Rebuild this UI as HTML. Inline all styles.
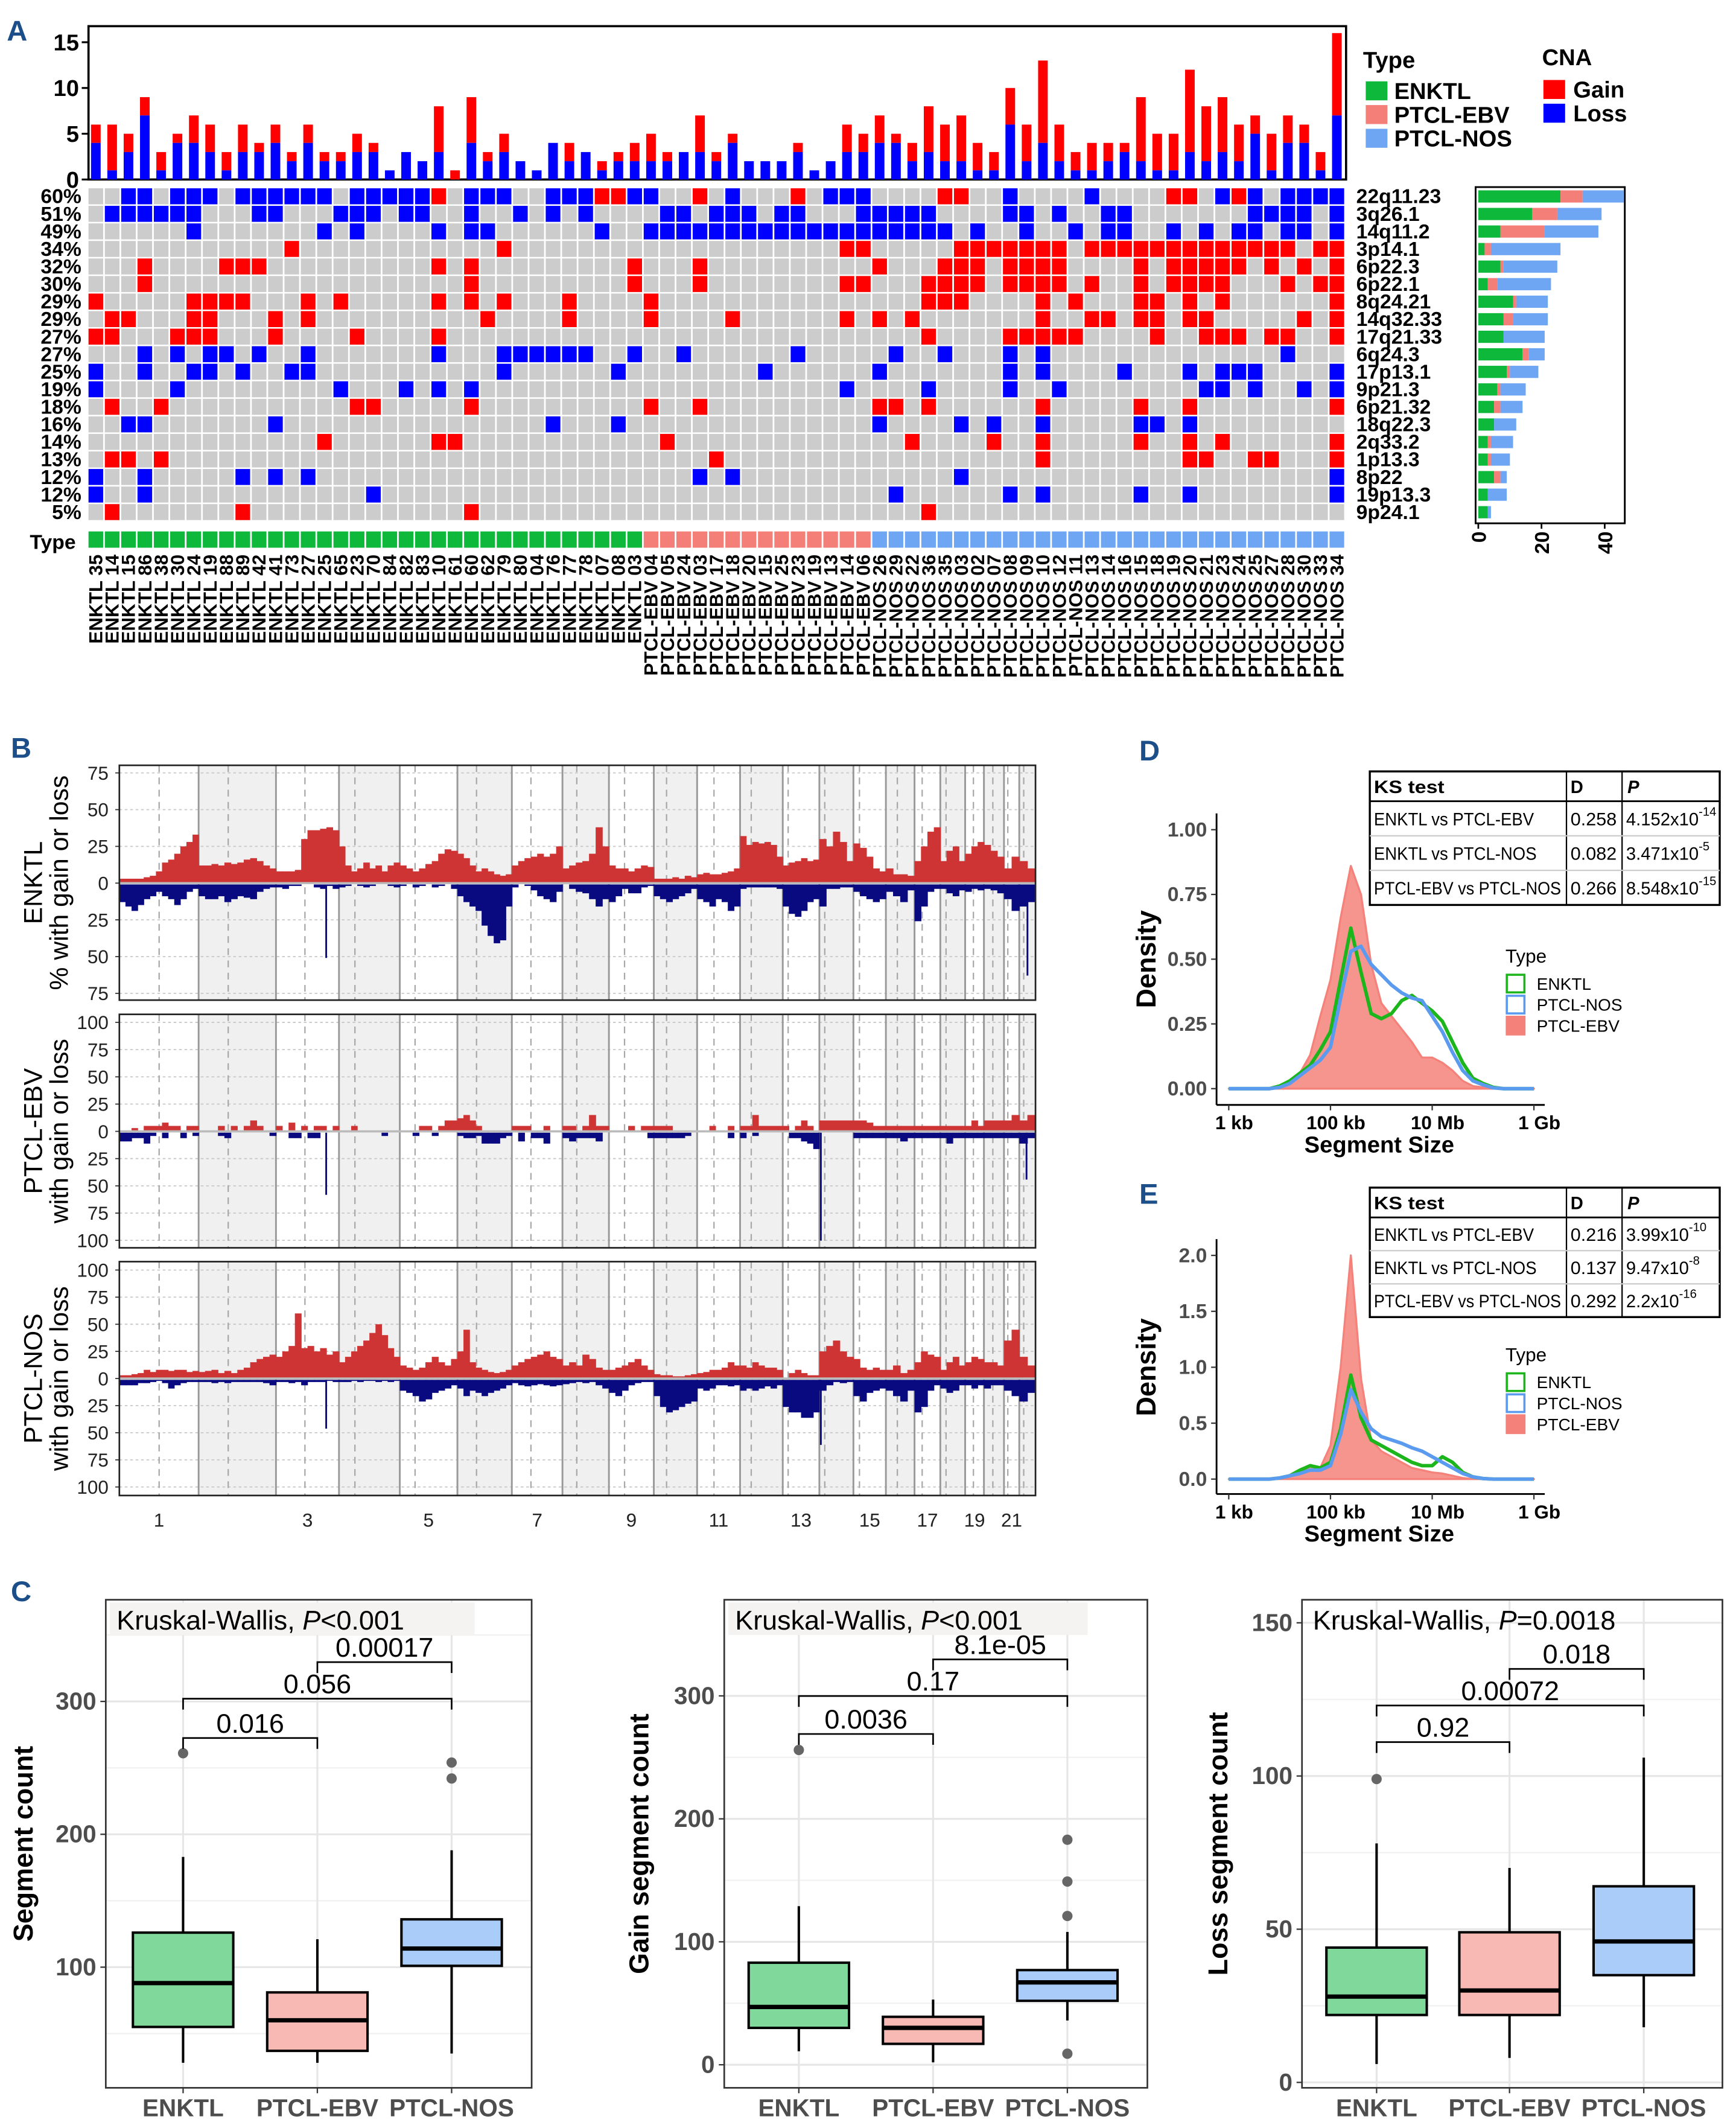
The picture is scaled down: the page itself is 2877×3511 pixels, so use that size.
<!DOCTYPE html>
<html><head><meta charset="utf-8">
<style>
html,body{margin:0;padding:0;background:#fff;}
svg{display:block;font-family:"Liberation Sans",sans-serif;}
</style></head>
<body>
<svg id="fig" xmlns="http://www.w3.org/2000/svg" width="2877" height="3511" viewBox="0 0 1280 1563" preserveAspectRatio="none">
<rect x="0" y="0" width="1280" height="1563" fill="#fff"/>
<g id="panelA"></g>
<g id="panelB"></g>
<g id="panelC"></g>
<g id="panelD"></g>
<g id="panelE"></g>
</svg>
<script>
// ---------- Panel A data ----------
const sampleIds=["35","14","15","86","38","30","24","19","88","89","42","41","73","27","25","65","23","70","84","82","83","10","61","60","62","79","80","04","76","77","78","07","08","03",
"04","05","24","03","17","18","20","15","25","23","19","13","14","06",
"26","29","22","36","35","03","02","07","08","09","10","12","11","13","14","16","15","18","19","20","21","23","24","25","27","28","30","33","34"];
const sampleTypes=[];
for(let i=0;i<34;i++)sampleTypes.push(0);
for(let i=0;i<14;i++)sampleTypes.push(1);
for(let i=0;i<29;i++)sampleTypes.push(2);
const typeNames=["ENKTL","PTCL-EBV","PTCL-NOS"];
const cnaTotal=[6,6,5,9,3,5,7,6,3,6,4,6,3,6,3,3,5,4,1,3,2,8,1,9,3,5,2,1,4,4,3,2,3,4,5,3,3,7,3,5,2,2,2,4,1,2,6,5,7,5,4,8,6,7,4,3,10,6,13,6,3,4,4,4,9,5,5,12,8,9,6,7,5,7,6,3,16];
const cnaLoss=[4,1,3,7,1,4,4,3,1,3,3,4,2,4,2,2,3,3,1,3,2,3,0,4,2,3,2,1,4,2,3,1,2,2,2,2,3,3,2,4,2,2,2,3,1,2,3,3,4,4,2,3,2,2,1,1,6,2,4,2,1,1,2,3,2,1,1,3,2,3,2,5,1,4,4,1,7];
const yTicksA=[0,5,10,15];
const pctLabels=["60%","51%","49%","34%","32%","30%","29%","29%","27%","27%","25%","19%","18%","16%","14%","13%","12%","12%","5%"];
const bandLabels=["22q11.23","3q26.1","14q11.2","3p14.1","6p22.3","6p22.1","8q24.21","14q32.33","17q21.33","6q24.3","17p13.1","9p21.3","6p21.32","18q22.3","2q33.2","1p13.3","8p22","19p13.3","9p24.1"];
const rowGain=[[21,31,32,37,43,52,53,66,67,70],[],[],
[12,25,46,47,53,54,55,56,57,58,59,61,62,63,64,65,66,67,68,69,70,71,72,73,75,76],
[3,8,9,10,21,23,33,37,48,52,53,54,56,57,58,59,64,66,67,68,69,70,72,74,76],
[3,23,33,37,46,47,51,52,53,54,56,57,58,59,61,64,66,67,68,69,73,75,76],
[0,6,7,8,9,13,15,21,23,25,29,34,51,52,53,58,60,64,65,67,69,76],
[1,2,6,7,11,13,24,29,34,39,46,48,50,58,61,62,64,65,67,68,74,76],
[0,1,5,6,7,11,16,21,51,56,57,58,59,60,65,68,69,70,72,73,76],
[],[],[],
[1,4,16,17,23,34,37,48,49,51,58,64,67,76],[],
[14,21,22,35,50,55,58,64,67,69,76],
[1,2,4,38,58,67,68,71,72,76],[],[],[1,9,23,51]];
const rowLoss=[[2,3,5,6,7,9,10,11,12,13,14,16,17,18,19,20,23,24,25,28,29,30,33,34,39,45,46,47,56,61,69,71,73,74,75,76],
[1,2,3,4,5,6,10,11,15,16,17,19,20,23,26,28,30,35,36,38,39,40,42,43,47,48,49,50,51,56,57,59,62,63,71,72,73,74,76],
[6,14,16,21,23,24,31,34,35,36,37,38,39,40,41,42,43,44,45,46,47,48,49,50,51,52,54,57,60,62,63,66,68,70,71,73,74,76],
[],[],[],[],[],[],
[3,5,7,8,10,13,21,25,26,27,28,29,30,33,36,43,49,52,56,58,73],
[0,3,6,7,9,12,13,25,32,41,48,56,58,63,67,69,70,71,76],
[0,5,15,19,21,23,46,51,56,59,68,69,71,74,76],[],
[2,3,11,28,32,48,53,55,58,64,65,67],[],[],
[0,3,9,11,13,37,39,53,76],[0,3,17,49,56,58,64,67,76],[]];
const freqTicks=[0,20,40];

// ---------- Panel B data ----------
const chrLen=[249,243,198,191,181,171,159,146,141,136,135,134,115,107,102,90,81,78,59,63,48,51];
const chrCen=[125,93,91,50,48,60,60,45,49,40,53,35,17,17,19,36,24,18,26,28,12,14];
const enktlGain=[[3,3,3,3,4,5,8,14,16,20,25,28,33],[12,12,13,12,14,13,14,16,17,15,12,10],[8,8,8,9,30,36,36,37,38,36],[25,12,8,10,14,10,12,8,12,14],[12,10,8,10,13,15,20,23,22],[20,17,12,8,10,8,6,5,6],[12,15,17,18,20,18,20,25],[10,12,14,15,20,38,25],[12,10,10,8,10,12,11],[3,3,3,4,3,5,4],[6,7,6,6,7,8,10],[32,26,28,27,28,26,18],[12,14,15,17,15,16],[30,25,35,28,15],[27,24,18,10,8],[10,6,6,5],[15,25,35,38],[15,22,25,15],[20,25,28],[26,22,18],[10,18],[15,10]];
const enktlLoss=[[12,15,18,14,10,8,5,8,10,14,10,5,3],[8,10,10,8,12,10,8,9,10,5,3,2],[2,3,1,1,0,0,2,3,1,3],[2,1,0,1,2,1,0,0,1,2],[1,0,2,1,0,2,1,0,3],[8,12,15,18,28,35,40,38,15],[2,0,1,4,8,10,12,5],[0,3,5,6,10,15,10],[12,8,3,6,6,2,1],[8,10,12,10,8,6,3],[10,12,15,10,12,18,15],[3,2,2,2,2,2,3],[15,20,22,18,12,10],[15,3,3,2,2],[5,8,10,12,10],[5,8,12,4],[25,15,5,3],[3,6,8,4],[5,3,4],[3,4,6],[10,18],[15,12]];
const enktlSpikeChr=[3,22];
const enktlSpikeMb=[155,23];
const enktlSpikeVal=[50,62];
const ebvGain=[[0,0,3,0,5,5,5,8,5,5,0,5,5],[0,0,0,5,0,5,0,5,10,5,0,0],[5,0,8,0,5,0,5,5,0,5],[0,0,5,0,0,0,0,0,0,0],[0,0,0,5,5,0,5,10,10],[12,15,10,5,0,0,0,0,0],[5,5,5,0,0,5,0,0],[5,5,0,5,15,5,5],[0,0,0,5,0,5,5],[5,5,5,0,0,0,0],[0,0,5,0,0,5,0],[5,5,15,5,5,5,5],[5,0,5,10,5,0],[10,10,10,10,10],[10,10,8,5,5],[5,5,5,5],[5,5,5,5],[5,5,5,5],[5,10,5],[10,10,10],[10,15],[10,15]];
const ebvLoss=[[8,8,5,5,10,3,0,5,0,0,5,0,3],[0,0,0,3,5,0,0,0,0,0,0,3],[0,0,5,5,0,5,5,0,0,0],[0,0,0,0,0,0,0,3,0,0],[0,0,3,0,0,3,0,0,0],[3,5,5,3,10,10,10,5,3],[0,8,0,5,5,10,0,0],[5,8,5,5,5,8,0],[0,0,0,0,0,0,5],[5,5,5,5,5,3,0],[0,0,0,0,0,5,0],[5,0,3,0,0,0,0],[0,5,5,8,10,15],[0,0,0,0,0],[5,5,5,5,5],[5,5,8,5],[5,5,5,5],[5,10,5,5],[5,5,5],[5,5,5],[5,5],[10,5]];
const ebvSpikeChr=[3,14,22];
const ebvSpikeMb=[155,2,20];
const ebvSpikeVal=[57,99,43];
const nosGain=[[3,3,4,5,8,6,8,8,7,8,8,6,7],[6,7,8,5,7,5,8,10,15,18,20,22],[20,25,30,60,28,30,25,28,22,25],[15,20,25,30,35,42,50,40,28,20],[12,10,8,10,15,20,15,12,18],[25,45,15,10,8,6,5,6,8],[12,15,18,20,22,25,20,18],[12,15,12,22,18,10,8],[8,10,12,15,18,12,8],[4,3,3,2,2,3,4],[5,6,8,8,10,15,12],[12,10,15,12,10,10,8],[0,5,8,5,3,3],[25,30,35,25,20],[18,10,8,10,8],[8,12,5,8],[15,25,22,20],[8,15,20,12],[15,20,18],[15,15,12],[35,45],[20,12]];
const nosLoss=[[5,5,5,3,3,2,1,3,8,5,3,2,2],[2,2,3,2,3,2,2,2,2,2,3,5],[2,2,3,2,5,2,2,2,1,2],[2,2,1,2,1,1,2,1,2,1],[10,12,15,20,18,12,10,8,5],[8,15,10,12,15,12,10,8,5],[3,5,6,5,4,5,6,5],[4,3,2,3,2,5,8],[12,15,10,5,3,2,2],[15,25,30,28,25,22,20],[8,10,8,5,5,6,5],[10,8,10,8,6,8,5],[25,30,30,35,35,30],[10,5,2,3,2],[15,20,12,10,8],[10,15,20,10],[30,25,10,5],[8,12,10,5],[5,8,5],[8,5,5],[10,15],[20,12]];
const nosSpikeChr=[3,14];
const nosSpikeMb=[155,2];
const nosSpikeVal=[45,60];
const ticksB1=[75,50,25,0,25,50,75];
const ticksB2=[100,75,50,25,0,25,50,75,100];

// ---------- Panel C data ----------
const boxGroups=["ENKTL","PTCL-EBV","PTCL-NOS"];
const c1Stats=[[28,55,88,126,183],[28,37,60,81,121],[35,101,114,136,188]];
const c1Out=[[261],[],[254,242]];
const c1Ticks=[100,200,300];
const c1Pvals=["0.016","0.056","0.00017"];
const c2Stats=[[11,30,47,83,129],[2,17,30,39,53],[36,52,67,77,108]];
const c2Out=[[256],[],[183,149,121,9]];
const c2Ticks=[0,100,200,300];
const c2Pvals=["0.0036","0.17","8.1e-05"];
const c3Stats=[[6,22,28,44,78],[8,22,30,49,70],[18,35,46,64,106]];
const c3Out=[[99],[],[]];
const c3Ticks=[0,50,100,150];
const c3Pvals=["0.92","0.00072","0.018"];

// ---------- Panel D/E data ----------
const logSize=[3,3.2,3.4,3.6,3.8,4.0,4.2,4.4,4.6,4.8,5.0,5.2,5.4,5.6,5.8,6.0,6.2,6.4,6.6,6.8,7.0,7.2,7.4,7.6,7.8,8.0,8.2,8.4,8.6,8.8,9.0];
const dEbv=[0,0,0,0,0,0.01,0.03,0.06,0.13,0.28,0.42,0.66,0.86,0.75,0.48,0.33,0.28,0.23,0.18,0.12,0.12,0.1,0.07,0.03,0.01,0.005,0,0,0,0,0];
const dEnktl=[0,0,0,0,0,0.01,0.03,0.06,0.09,0.15,0.22,0.42,0.62,0.45,0.29,0.27,0.29,0.34,0.36,0.33,0.3,0.26,0.18,0.1,0.04,0.02,0.005,0,0,0,0];
const dNos=[0,0,0,0,0,0.005,0.02,0.05,0.08,0.11,0.16,0.35,0.53,0.55,0.48,0.44,0.4,0.37,0.35,0.34,0.28,0.22,0.14,0.07,0.03,0.015,0.003,0,0,0,0];
const eEbv=[0,0,0,0,0,0.01,0.03,0.06,0.12,0.1,0.3,1.0,2.0,0.9,0.35,0.25,0.2,0.15,0.1,0.08,0.06,0.05,0.03,0.01,0,0,0,0,0,0,0];
const eEnktl=[0,0,0,0,0,0.01,0.03,0.08,0.12,0.1,0.15,0.45,0.93,0.55,0.35,0.3,0.25,0.2,0.15,0.12,0.12,0.2,0.15,0.06,0.02,0.005,0,0,0,0,0];
const eNos=[0,0,0,0,0,0.01,0.03,0.05,0.08,0.08,0.12,0.4,0.8,0.6,0.45,0.38,0.35,0.32,0.28,0.25,0.2,0.15,0.1,0.05,0.02,0.005,0,0,0,0,0];
const dTicks=[0,0.25,0.5,0.75,1.0];
const dTickLabels=["0.00","0.25","0.50","0.75","1.00"];
const eTicks=[0,0.5,1.0,1.5,2.0];
const eTickLabels=["0.0","0.5","1.0","1.5","2.0"];
const xLogTicks=[3,5,7,9];
const xLogLabels=["1 kb","100 kb","10 Mb","1 Gb"];
const ksComparisons=["ENKTL vs PTCL-EBV","ENKTL vs PTCL-NOS","PTCL-EBV vs PTCL-NOS"];
const ksDvalsD=["0.258","0.082","0.266"];
const ksPmantD=["4.152x10","3.471x10","8.548x10"];
const ksPexpD=["-14","-5","-15"];
const ksDvalsE=["0.216","0.137","0.292"];
const ksPmantE=["3.99x10","9.47x10","2.2x10"];
const ksPexpE=["-10","-8","-16"];

// ---------- helpers ----------
const NS="http://www.w3.org/2000/svg";
function mk(tag,attrs,parent){const e=document.createElementNS(NS,tag);for(const k in attrs)e.setAttribute(k,attrs[k]);parent.appendChild(e);return e;}
function txt(s,attrs,parent){const e=mk("text",attrs,parent);e.textContent=s;return e;}
const COL_GREEN="#0db83b",COL_PINK="#f47f79",COL_BLUE="#6ea6f4";
const typeColors=[COL_GREEN,COL_PINK,COL_BLUE];

// ================= PANEL A =================
(function(){
const g=document.getElementById("panelA");
let t=txt("A",{x:5,y:30,"font-size":21,"font-weight":"bold",fill:"#1c4f8a"},g);

const X0=65.26,P=12.04,CW=10.8,Y0=138.9,RP=12.94,RH=11.8;
const ax0=132.4,ak=6.75,atop=19.3,aright=992.5;
const fr=mk("rect",{x:X0,y:atop,width:aright-X0,height:ax0-atop,fill:"none",stroke:"#000","stroke-width":1.6},g);

yTicksA.forEach(v=>{const y=ax0-v*ak;
 const l=mk("line",{x1:X0-5,x2:X0,y1:y,y2:y,stroke:"#000","stroke-width":1.4},g);
 
 const tt=txt(String(v),{x:X0-7,y:y+6,"text-anchor":"end","font-size":17,"font-weight":"bold"},g);
 });
cnaTotal.forEach((tot,i)=>{const bx=X0+i*P+(CW-7.1)/2;const lo=cnaLoss[i];
 const r1=mk("rect",{x:bx,y:ax0-tot*ak,width:7.1,height:(tot-lo)*ak,fill:"#ff0000"},g);
 
 const r2=mk("rect",{x:bx,y:ax0-lo*ak,width:7.1,height:lo*ak,fill:"#0000ff"},g);
 });
for(let r=0;r<19;r++){
 const y=Y0+r*RP;
 for(let c=0;c<77;c++){
  let f="#cccccc";
  if(rowGain[r].indexOf(c)>=0)f="#ff0000";
  if(rowLoss[r].indexOf(c)>=0)f="#0000ff";
  const cell=mk("rect",{x:X0+c*P,y:y,width:CW,height:RH,fill:f},g);
  
 }
 const pl=txt(pctLabels[r],{x:60,y:y+11,"text-anchor":"end","font-size":15,"font-weight":"bold"},g);
 
 const bl=txt(bandLabels[r],{x:1000,y:y+11,"font-size":15,"font-weight":"bold"},g);
 
}
const tl=txt("Type",{x:22,y:405,"font-size":15,"font-weight":"bold"},g);

for(let c=0;c<77;c++){
 const tr=mk("rect",{x:X0+c*P,y:392,width:CW,height:12,fill:typeColors[sampleTypes[c]]},g);
 
 const s=typeNames[sampleTypes[c]]+" "+sampleIds[c];
 const cx=X0+c*P+CW/2+4.8;
 const st=txt(s,{x:0,y:0,transform:"translate("+cx+",409) rotate(-90)","text-anchor":"end","font-size":14,"font-weight":"bold"},g);
 
}
const fx0=1090,fk=2.33;
const ff=mk("rect",{x:1088,y:138,width:110,height:248,fill:"none",stroke:"#000","stroke-width":1.3},g);

for(let r=0;r<19;r++){
 const counts=[0,0,0];
 rowGain[r].forEach(c=>counts[sampleTypes[c]]++);
 rowLoss[r].forEach(c=>counts[sampleTypes[c]]++);
 let acc=0;const y=Y0+r*RP+1.5;
 for(let k=0;k<3;k++){
  const b=mk("rect",{x:fx0+acc*fk,y:y,width:counts[k]*fk,height:9,fill:typeColors[k]},g);
  
  acc+=counts[k];
 }
}
freqTicks.forEach(v=>{const x=fx0+v*fk;
 const l=mk("line",{x1:x,x2:x,y1:386,y2:390,stroke:"#000","stroke-width":1.2},g);
 
 const tt=txt(String(v),{x:0,y:0,transform:"translate("+(x+5.5)+",392) rotate(-90)","text-anchor":"end","font-size":15,"font-weight":"bold"},g);
 });
const lg=mk("g",{},g);
let q=txt("Type",{x:1005,y:50,"font-size":17,"font-weight":"bold"},lg);
typeNames.forEach((n,k)=>{const yy=60+k*17.5;
 const s=mk("rect",{x:1007,y:yy,width:16,height:14,fill:typeColors[k]},lg);
 const tt=txt(n,{x:1028,y:yy+13,"font-size":17,"font-weight":"bold"},lg);});
const lc=mk("g",{},g);
q=txt("CNA",{x:1137,y:48,"font-size":17,"font-weight":"bold"},lc);
[["Gain","#ff0000"],["Loss","#0000ff"]].forEach((p,k)=>{const yy=59+k*17.5;
 const s=mk("rect",{x:1138,y:yy,width:16,height:14,fill:p[1]},lc);
 const tt=txt(p[0],{x:1160,y:yy+13,"font-size":17,"font-weight":"bold"},lc);});
})();

// ================= PANEL B =================
(function(){
const g=document.getElementById("panelB");
let t=txt("B",{x:8,y:559,"font-size":21,"font-weight":"bold",fill:"#1c4f8a"},g);

const XL=88,XR=763.5;
const totalMb=chrLen.reduce((a,b)=>a+b,0);
const sc=(XR-XL)/totalMb;
const cum=[];let a=0;chrLen.forEach(l=>{cum.push(a);a+=l;});
function gx(c,mb){return XL+(cum[c]+mb)*sc;}
const panels=[
 {top:564.5,bot:737.7,zero:651.4,k:1.084,ticks:ticksB1,gain:enktlGain,loss:enktlLoss,sc:enktlSpikeChr,sm:enktlSpikeMb,sv:enktlSpikeVal,lab1:"ENKTL",lab2:"% with gain or loss",name:"enktl"},
 {top:748.2,bot:920.4,zero:834.5,k:0.804,ticks:ticksB2,gain:ebvGain,loss:ebvLoss,sc:ebvSpikeChr,sm:ebvSpikeMb,sv:ebvSpikeVal,lab1:"PTCL-EBV",lab2:"with gain or loss",name:"ptcl-ebv"},
 {top:930.6,bot:1103.1,zero:1016.8,k:0.80,ticks:ticksB2,gain:nosGain,loss:nosLoss,sc:nosSpikeChr,sm:nosSpikeMb,sv:nosSpikeVal,lab1:"PTCL-NOS",lab2:"with gain or loss",name:"ptcl-nos"}];
panels.forEach(p=>{
 const pg=mk("g",{},g);
 chrLen.forEach((l,c)=>{ if(c%2===1){const s=mk("rect",{x:gx(c,0),y:p.top,width:l*sc,height:p.bot-p.top,fill:"#f0f0f0"},pg);
  }});
 const n=p.ticks.length,mid=(n-1)/2;
 p.ticks.forEach((v,i)=>{
  const yy=i<mid?p.zero-v*p.k:p.zero+v*p.k;
  const l=mk("line",{x1:XL,x2:XR,y1:yy,y2:yy,stroke:"#c8c8c8","stroke-width":0.8,"stroke-dasharray":"2,2"},pg);
  
  const tl=mk("line",{x1:XL-3,x2:XL,y1:yy,y2:yy,stroke:"#333","stroke-width":0.8},pg);
  
  const tt=txt(String(v),{x:XL-8,y:yy+5,"text-anchor":"end","font-size":14,fill:"#222"},pg);
  });
 chrLen.forEach((l,c)=>{
  const cx=gx(c,chrCen[c]);
  const d=mk("line",{x1:cx,x2:cx,y1:p.top,y2:p.bot,stroke:"#a8a8a8","stroke-width":1,"stroke-dasharray":"5,4"},pg);
  
  if(c>0){const bx=gx(c,0);const b=mk("line",{x1:bx,x2:bx,y1:p.top,y2:p.bot,stroke:"#999","stroke-width":1.3},pg);
  }
 });
 p.gain.forEach((arr,c)=>{const w=chrLen[c]/arr.length;
  arr.forEach((v,j)=>{if(v<=0)return;const r=mk("rect",{x:gx(c,j*w),y:p.zero-v*p.k,width:w*sc+0.3,height:v*p.k,fill:"#cf3434"},pg);
   });});
 p.loss.forEach((arr,c)=>{const w=chrLen[c]/arr.length;
  arr.forEach((v,j)=>{if(v<=0)return;const r=mk("rect",{x:gx(c,j*w),y:p.zero+1,width:w*sc+0.3,height:v*p.k,fill:"#0a0a80"},pg);
   });});
 p.sc.forEach((c,i)=>{const x=gx(c-1,p.sm[i]);const r=mk("rect",{x:x,y:p.zero+1,width:1.3,height:p.sv[i]*p.k,fill:"#0a0a80"},pg);
  });
 const z=mk("line",{x1:XL,x2:XR,y1:p.zero,y2:p.zero,stroke:"#bbbbbb","stroke-width":1.6},pg);
 
 const f=mk("rect",{x:XL,y:p.top,width:XR-XL,height:p.bot-p.top,fill:"none",stroke:"#222","stroke-width":1.2},pg);
 
 const cy=(p.top+p.bot)/2;
 const a1=txt(p.lab1,{x:0,y:0,transform:"translate(31,"+cy+") rotate(-90)","text-anchor":"middle","font-size":19},pg);
 
 const a2=txt(p.lab2,{x:0,y:0,transform:"translate(50,"+cy+") rotate(-90)","text-anchor":"middle","font-size":19},pg);
 
});
chrLen.forEach((l,c)=>{ if(c%2===0){const x=gx(c,l/2);
 const tt=txt(String(c+1),{x:x,y:1126,"text-anchor":"middle","font-size":14,fill:"#222"},g);
 }});
})();

// ================= PANEL C =================
(function(){
const g=document.getElementById("panelC");
let t=txt("C",{x:8,y:1181,"font-size":21,"font-weight":"bold",fill:"#1c4f8a"},g);

const fills=["#80d89a","#f8b8b4","#aaccf8"];
const cfg=[
 {x0:78,x1:392,cx:[135,234,333],y0:1549,k:0.98,stats:c1Stats,out:c1Out,ticks:c1Ticks,minor:[50,150,250,350],pv:c1Pvals,by:[1282,1253,1226],title:"Segment count",kw:"<0.001",kwbg:350,ylx:24,name:"segment-count"},
 {x0:534,x1:846,cx:[589,688,787],y0:1523,k:0.907,stats:c2Stats,out:c2Out,ticks:c2Ticks,minor:[50,150,250],pv:c2Pvals,by:[1279,1251,1224],title:"Gain segment count",kw:"<0.001",kwbg:802,ylx:478,name:"gain-segment-count"},
 {x0:960,x1:1270,cx:[1015,1113,1212],y0:1536,k:2.26,stats:c3Stats,out:c3Out,ticks:c3Ticks,minor:[25,75,125],pv:c3Pvals,by:[1285,1258,1231],title:"Loss segment count",kw:"=0.0018",kwbg:0,ylx:905,name:"loss-segment-count"}];
cfg.forEach(c=>{
 const pg=mk("g",{},g);
 const Y=v=>c.y0-v*c.k;
 const top=1180,bot=1540;
 c.minor.forEach(v=>{const y=Y(v);if(y<top||y>bot)return;const l=mk("line",{x1:c.x0,x2:c.x1,y1:y,y2:y,stroke:"#f0f0f0","stroke-width":1},pg);
  });
 c.ticks.forEach(v=>{const y=Y(v);const l=mk("line",{x1:c.x0,x2:c.x1,y1:y,y2:y,stroke:"#e6e6e6","stroke-width":1.4},pg);
  
  const tk=mk("line",{x1:c.x0-4,x2:c.x0,y1:y,y2:y,stroke:"#333","stroke-width":1},pg);
  
  const tt=txt(String(v),{x:c.x0-7,y:y+6,"text-anchor":"end","font-size":18,"font-weight":"bold",fill:"#4d4d4d"},pg);
  });
 c.cx.forEach(x=>{const l=mk("line",{x1:x,x2:x,y1:top,y2:bot,stroke:"#e6e6e6","stroke-width":1.4},pg);
  });
 const bgw=c.kwbg?c.kwbg-(c.x0+3):0;
 if(bgw>0){const bg=mk("rect",{x:c.x0+3,y:1182,width:bgw,height:24,fill:"#f5f2f2"},pg);
  }
 const kt=txt("",{x:c.x0+8,y:1202,"font-size":20,fill:"#000"},pg);
 
 const s1=mk("tspan",{},kt);s1.textContent="Kruskal-Wallis, ";
 const s2=mk("tspan",{"font-style":"italic"},kt);s2.textContent="P";
 const s3=mk("tspan",{},kt);s3.textContent=c.kw;
 c.stats.forEach((s,i)=>{const x=c.cx[i];const w=37;
  const wl=mk("line",{x1:x,x2:x,y1:Y(s[0]),y2:Y(s[4]),stroke:"#000","stroke-width":1.8},pg);
  
  const b=mk("rect",{x:x-w,y:Y(s[3]),width:2*w,height:Y(s[1])-Y(s[3]),fill:fills[i],stroke:"#000","stroke-width":1.8},pg);
  
  const m=mk("line",{x1:x-w,x2:x+w,y1:Y(s[2]),y2:Y(s[2]),stroke:"#000","stroke-width":3.2},pg);
  
  c.out[i].forEach(v=>{const o=mk("circle",{cx:x,cy:Y(v),r:3.8,fill:"#666"},pg);
   });
  const xt=txt(boxGroups[i],{x:x,y:1561,"text-anchor":"middle","font-size":18,"font-weight":"bold",fill:"#4d4d4d"},pg);
  
  const xk=mk("line",{x1:x,x2:x,y1:bot,y2:bot+4,stroke:"#333","stroke-width":1},pg);
  
 });
 const pairs=[[0,1],[0,2],[1,2]];
 pairs.forEach((pr,j)=>{const y=c.by[j];const xa=c.cx[pr[0]],xb=c.cx[pr[1]];
  const br=mk("path",{d:"M"+xa+","+(y+8)+"V"+y+"H"+xb+"V"+(y+8),fill:"none",stroke:"#000","stroke-width":1.2},pg);
  
  const pt=txt(c.pv[j],{x:(xa+xb)/2,y:y-4,"text-anchor":"middle","font-size":20},pg);
  });
 const fr=mk("rect",{x:c.x0,y:top,width:c.x1-c.x0,height:bot-top,fill:"none",stroke:"#333","stroke-width":1.2},pg);
 
 const yt=txt(c.title,{x:0,y:0,transform:"translate("+c.ylx+","+((top+bot)/2)+") rotate(-90)","text-anchor":"middle","font-size":20,"font-weight":"bold"},pg);
 
});
})();

// ================= PANELS D & E =================
function densityPanel(gid,letter,ly,yZero,yk,ticks,tickLabels,axisY,ebv,enk,nos,tblTop,rowH,dv,pm,pe,legY){
 const g=document.getElementById(gid);
 const t=txt(letter,{x:840,y:ly,"font-size":21,"font-weight":"bold",fill:"#1c4f8a"},g);
 
 const X=v=>906+(v-3)*37.5;const Y=v=>yZero-v*yk;
 const ya=mk("line",{x1:897,x2:897,y1:Y(ticks[ticks.length-1])-12,y2:axisY,stroke:"#000","stroke-width":1.3},g);
 
 const xa=mk("line",{x1:897,x2:1139,y1:axisY,y2:axisY,stroke:"#000","stroke-width":1.3},g);
 
 ticks.forEach((v,i)=>{const y=Y(v);
  const k=mk("line",{x1:893,x2:897,y1:y,y2:y,stroke:"#333","stroke-width":1},g);
  const tt=txt(tickLabels[i],{x:890,y:y+5,"text-anchor":"end","font-size":15,"font-weight":"bold",fill:"#4d4d4d"},g);
  });
 xLogTicks.forEach((v,i)=>{const x=X(v);
  const k=mk("line",{x1:x,x2:x,y1:axisY,y2:axisY+4,stroke:"#333","stroke-width":1},g);
  const tt=txt(xLogLabels[i],{x:x+4,y:axisY+18,"text-anchor":"middle","font-size":14,"font-weight":"bold"},g);
  });
 const xt=txt("Segment Size",{x:1017,y:axisY+35,"text-anchor":"middle","font-size":17,"font-weight":"bold"},g);
 
 const yt=txt("Density",{x:0,y:0,transform:"translate(852,"+((Y(ticks[ticks.length-1])+yZero)/2)+") rotate(-90)","text-anchor":"middle","font-size":20,"font-weight":"bold"},g);
 
 let d="M"+X(logSize[0])+","+Y(0);
 logSize.forEach((v,i)=>{d+=" L"+X(v).toFixed(2)+","+Y(ebv[i]).toFixed(2);});
 d+=" L"+X(logSize[logSize.length-1])+","+Y(0)+"Z";
 const a=mk("path",{d:d,fill:"#f4827a","fill-opacity":0.85,stroke:"#f4827a","stroke-width":1.5,"stroke-linejoin":"round"},g);
 
 [[enk,"#1cb51c","enktl"],[nos,"#5a9bef","ptcl-nos"]].forEach(s=>{
  let dd="";logSize.forEach((v,i)=>{dd+=(i?" L":"M")+X(v).toFixed(2)+","+Y(s[0][i]).toFixed(2);});
  const p=mk("path",{d:dd,fill:"none",stroke:s[1],"stroke-width":2.6,"stroke-linejoin":"round"},g);
  });
 const tg=mk("g",{},g);
 const tx0=1010,tx1=1268,c1=1155,c2=1196,hh=22;
 const tb=mk("rect",{x:tx0,y:tblTop,width:tx1-tx0,height:hh+3*rowH,fill:"#fff",stroke:"#000","stroke-width":1.5},tg);
 
 [c1,c2].forEach(x=>{const l=mk("line",{x1:x,x2:x,y1:tblTop,y2:tblTop+hh+3*rowH,stroke:"#000","stroke-width":1},tg);
  });
 const hl=mk("line",{x1:tx0,x2:tx1,y1:tblTop+hh,y2:tblTop+hh,stroke:"#000","stroke-width":1.3},tg);
 
 for(let r=1;r<3;r++){const y=tblTop+hh+r*rowH;const l=mk("line",{x1:tx0,x2:tx1,y1:y,y2:y,stroke:"#ccc","stroke-width":1},tg);
  }
 let h=txt("KS test",{x:tx0+3,y:tblTop+16,"font-size":13,"font-weight":"bold",textLength:52,lengthAdjust:"spacingAndGlyphs"},tg);
 
 h=txt("D",{x:c1+3,y:tblTop+16,"font-size":13,"font-weight":"bold"},tg);
 h=txt("P",{x:c2+4,y:tblTop+16,"font-size":13,"font-weight":"bold","font-style":"italic"},tg);
 ksComparisons.forEach((s,r)=>{const y=tblTop+hh+r*rowH+rowH/2+5;
  const w=[118,120,138][r];
  let c=txt(s,{x:tx0+3,y:y,"font-size":13,textLength:w,lengthAdjust:"spacingAndGlyphs"},tg);
  c=txt(dv[r],{x:c1+3,y:y,"font-size":13,textLength:34,lengthAdjust:"spacingAndGlyphs"},tg);
  c=txt("",{x:c2+3,y:y,"font-size":13},tg);
  const m=mk("tspan",{},c);m.textContent=pm[r];
  const e=mk("tspan",{dy:-7,"font-size":9},c);e.textContent=pe[r];});
 const lg=mk("g",{},g);
 const lt=txt("Type",{x:1110,y:legY,"font-size":14},lg);
 [["ENKTL","#1cb51c",false],["PTCL-NOS","#5a9bef",false],["PTCL-EBV","#f4827a",true]].forEach((e,i)=>{const y=legY+9+i*15.5;
  const s=mk("rect",{x:1111,y:y,width:13,height:13,fill:e[2]?e[1]:"#fff",stroke:e[1],"stroke-width":1.6},lg);
  
  const tt=txt(e[0],{x:1133,y:y+11,"font-size":12.5},lg);});
}
densityPanel("panelD","D",561,803,191,dTicks,dTickLabels,815,dEbv,dEnktl,dNos,569,25.5,ksDvalsD,ksPmantD,ksPexpD,710);
densityPanel("panelE","E",888,1091,82.5,eTicks,eTickLabels,1102,eEbv,eEnktl,eNos,876,24.5,ksDvalsE,ksPmantE,ksPexpE,1004);
</script>
</body></html>
